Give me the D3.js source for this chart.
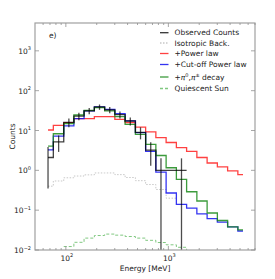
<!DOCTYPE html>
<html>
<head>
<meta charset="utf-8">
<script src="https://cdn.jsdelivr.net/npm/d3@7"></script>
<style>
  body { margin: 0; background: #fff; }
  text { font-family: "DejaVu Sans", sans-serif; fill: #222; }
</style>
</head>
<body>
<div id="chart"></div>
<script>
// bin centres (MeV)
var energies = [67, 85, 107, 134, 169, 213, 268, 337, 425, 535, 673, 847, 1067, 1343, 1690, 2128, 2679, 3373, 4246, 5345];

var observed    = [2.1, 5.2, 16, 23, 31, 39, 33, 25, 17.3, 9, 3.2, 1.0, 1.0, 1.0, null, null, null, null, null, null];
var observedErr = [1.75, 2.3, 4, 5, 5.5, 6, 5.7, 5, 4, 3, 1.9, 1.0, 0, 1.0, null, null, null, null, null, null];
var isotropic   = [0.40, 0.54, 0.65, 0.72, 0.77, 0.86, 0.86, 0.78, 0.66, 0.55, 0.44, 0.33, 0.2, null, null, null, null, null, null, null];
var powerLaw    = [10.3, 13.5, 15.8, 19.9, 19.9, 22.3, 22.3, 19.1, 15.8, 12.2, 9.2, 6.6, 5.0, 3.7, 3.0, 2.1, 1.53, 1.22, 0.97, 0.78];
var cutoffLaw   = [3.25, 7.2, 13.1, 19.9, 31, 39, 34, 26.6, 17.5, 8.8, 3.0, 0.9, 0.27, 0.14, 0.113, 0.081, 0.061, 0.05, 0.038, 0.03];
var pionDecay   = [4.05, 8.3, 14.9, 24.5, 32, 37.7, 31, 22.3, 14.3, 8.0, 4.5, 2.36, 1.16, 0.59, 0.29, 0.17, 0.085, 0.055, 0.038, 0.032];
var quietSun    = [null, null, 0.0122, 0.0156, 0.0199, 0.0231, 0.0251, 0.0236, 0.0218, 0.0199, 0.0175, 0.0154, 0.0135, 0.0117, 0.008, 0.006, 0.005, 0.004, 0.003, 0.002];

var xMajor = [100, 1000];
var xMinor = [60, 70, 80, 90, 200, 300, 400, 500, 600, 700, 800, 900, 2000, 3000, 4000, 5000, 6000, 7000];
var yMajor = [0.01, 0.1, 1, 10, 100, 1000];

var legendItems = [
  { label: "Observed Counts", color: "#000", dash: null, op: 0.8 },
  { label: "Isotropic Back.", color: "#c8c8c8", dash: "1.5,1.5", op: 1 },
  { label: "+Power law", color: "#ff2020", dash: null, op: 0.85 },
  { label: "+Cut-off Power law", color: "#1010ee", dash: null, op: 0.85 },
  { label: "pion", color: "#1a8a1a", dash: null, op: 0.85 },
  { label: "Quiescent Sun", color: "#80c880", dash: "3,2", op: 1 }
];

var W = 275, H = 279;
var pLeft = 35, pRight = 255, pTop = 23, pBottom = 250;

var svg = d3.select("#chart").append("svg")
    .attr("width", W)
    .attr("height", H);

var x = d3.scaleLog().domain([50, 7000]).range([pLeft, pRight]);
var y = d3.scaleLog().domain([0.01, 5000]).range([pBottom, pTop]);

svg.append("clipPath").attr("id", "plotclip")
    .append("rect")
    .attr("x", pLeft).attr("y", pTop)
    .attr("width", pRight - pLeft).attr("height", pBottom - pTop);

var plot = svg.append("g").attr("clip-path", "url(#plotclip)");

// matplotlib style steps-mid, broken where a value is missing
function stepSegments(vals) {
    var segs = [], cur = [];
    vals.forEach(function (v, i) {
        if (v == null) {
            if (cur.length) segs.push(cur);
            cur = [];
            return;
        }
        var xc = x(energies[i]);
        var xl = i > 0 ? (x(energies[i - 1]) + xc) / 2 : xc;
        var xr = i < vals.length - 1 ? (x(energies[i + 1]) + xc) / 2 : xc;
        cur.push([xl, y(v)], [xr, y(v)]);
    });
    if (cur.length) segs.push(cur);
    return segs;
}

var line = d3.line();

function drawSteps(vals, color, width, dash, op) {
    stepSegments(vals).forEach(function (seg) {
        plot.append("path")
            .attr("d", line(seg))
            .attr("fill", "none")
            .attr("stroke", color)
            .attr("stroke-width", width)
            .attr("stroke-opacity", op)
            .attr("stroke-dasharray", dash);
    });
}

drawSteps(isotropic, "#c8c8c8", 1, "1.5,1.5", 1);
drawSteps(quietSun, "#80c880", 1, "3,2", 1);
drawSteps(powerLaw, "#ff2020", 1.3, null, 0.85);
drawSteps(cutoffLaw, "#1010ee", 1.3, null, 0.85);
drawSteps(pionDecay, "#1a8a1a", 1.3, null, 0.85);
drawSteps(observed, "#000", 1.3, null, 0.75);

// error bars on the observed counts
plot.selectAll("line.err")
    .data(energies.map(function (e, i) { return { e: e, v: observed[i], err: observedErr[i] }; })
        .filter(function (d) { return d.v != null && d.err > 0; }))
    .enter()
    .append("line")
    .attr("class", "err")
    .attr("x1", function (d) { return x(d.e); })
    .attr("x2", function (d) { return x(d.e); })
    .attr("y1", function (d) { return y(d.v + d.err); })
    .attr("y2", function (d) { return d.v - d.err > 0.001 ? y(d.v - d.err) : pBottom + 5; })
    .attr("stroke", "#000")
    .attr("stroke-width", 1.3)
    .attr("stroke-opacity", 0.7);

// frame
svg.append("rect")
    .attr("x", pLeft).attr("y", pTop)
    .attr("width", pRight - pLeft).attr("height", pBottom - pTop)
    .attr("fill", "none")
    .attr("stroke", "#a0a0a0")
    .attr("stroke-width", 1.2);

// ticks, pointing inward on all four sides
var ticks = svg.append("g").attr("stroke", "#909090").attr("stroke-width", 0.8);
xMajor.forEach(function (t) {
    ticks.append("line").attr("x1", x(t)).attr("x2", x(t)).attr("y1", pBottom).attr("y2", pBottom - 4);
    ticks.append("line").attr("x1", x(t)).attr("x2", x(t)).attr("y1", pTop).attr("y2", pTop + 4);
});
xMinor.forEach(function (t) {
    ticks.append("line").attr("x1", x(t)).attr("x2", x(t)).attr("y1", pBottom).attr("y2", pBottom - 2);
    ticks.append("line").attr("x1", x(t)).attr("x2", x(t)).attr("y1", pTop).attr("y2", pTop + 2);
});
yMajor.forEach(function (t) {
    ticks.append("line").attr("x1", pLeft).attr("x2", pLeft + 4).attr("y1", y(t)).attr("y2", y(t));
    ticks.append("line").attr("x1", pRight).attr("x2", pRight - 4).attr("y1", y(t)).attr("y2", y(t));
});

function powerLabel(sel, t) {
    var exp = Math.round(Math.log10(t));
    sel.append("tspan").text("10");
    sel.append("tspan")
        .attr("dy", -3.5)
        .attr("font-size", 5)
        .text(exp < 0 ? "\u2212" + (-exp) : exp);
}

// tick labels
xMajor.forEach(function (t) {
    var tx = svg.append("text")
        .attr("x", x(t) + 1)
        .attr("y", pBottom + 10.5)
        .attr("text-anchor", "middle")
        .attr("font-size", 7.5);
    powerLabel(tx, t);
});
yMajor.forEach(function (t) {
    var ty = svg.append("text")
        .attr("x", pLeft - 4)
        .attr("y", y(t) + 3)
        .attr("text-anchor", "end")
        .attr("font-size", 7.5);
    powerLabel(ty, t);
});

// axis labels
svg.append("text")
    .attr("x", (pLeft + pRight) / 2)
    .attr("y", 270.5)
    .attr("text-anchor", "middle")
    .attr("font-size", 7.5)
    .text("Energy [MeV]");

svg.append("text")
    .attr("transform", "translate(15," + ((pTop + pBottom) / 2) + ") rotate(-90)")
    .attr("text-anchor", "middle")
    .attr("font-size", 7.5)
    .text("Counts");

svg.append("text")
    .attr("x", 49)
    .attr("y", 38)
    .attr("font-size", 7.5)
    .text("e)");

// legend
var legendY = [32.7, 43, 53.5, 64.5, 77, 88.5];
var legend = svg.append("g");
legendItems.forEach(function (d, i) {
    legend.append("line")
        .attr("x1", 160).attr("x2", 168.5)
        .attr("y1", legendY[i]).attr("y2", legendY[i])
        .attr("stroke", d.color)
        .attr("stroke-width", 1.3)
        .attr("stroke-opacity", d.op)
        .attr("stroke-dasharray", d.dash);
    var t = legend.append("text")
        .attr("x", 174.5)
        .attr("y", legendY[i] + 2.7)
        .attr("font-size", 7.5);
    if (d.label === "pion") {
        t.append("tspan").text("+");
        t.append("tspan").attr("font-style", "italic").text("\u03c0");
        t.append("tspan").attr("dy", -3).attr("font-size", 5).text("0");
        t.append("tspan").attr("dy", 3).text(",");
        t.append("tspan").attr("font-style", "italic").text("\u03c0");
        t.append("tspan").attr("dy", -3).attr("font-size", 5).text("\u00b1");
        t.append("tspan").attr("dy", 3).text("  decay");
    } else {
        t.text(d.label);
    }
});
</script>
</body>
</html>
